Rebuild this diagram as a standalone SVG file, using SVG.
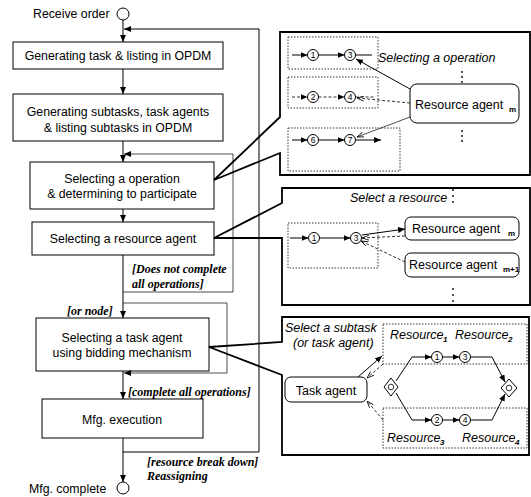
<svg xmlns="http://www.w3.org/2000/svg" width="531" height="497" viewBox="0 0 531 497">
<style>
.t{font-family:"Liberation Sans",Arial,sans-serif;font-size:12.3px;fill:#000}
.c{text-anchor:middle}
.it{font-style:italic;font-size:12.5px}
.lbl{font-family:"Liberation Serif","Times New Roman",serif;font-weight:bold;font-style:italic;font-size:12px;fill:#000}
.num{font-family:"Liberation Sans",Arial,sans-serif;font-size:8.5px;text-anchor:middle;fill:#000}
.sub{font-family:"Liberation Sans",Arial,sans-serif;font-size:8px;font-weight:bold;fill:#000}
.box{fill:#fff;stroke:#000;stroke-width:1}
.panel{fill:#fff;stroke:#000;stroke-width:1.8;stroke-linejoin:miter}
.dot{fill:none;stroke:#000;stroke-width:0.8;stroke-dasharray:1.5 1.5}
.ln{fill:none;stroke:#000;stroke-width:1}
.thin{fill:none;stroke:#000;stroke-width:0.7}
.dash{fill:none;stroke:#000;stroke-width:0.8;stroke-dasharray:3 2}
.op{fill:#fff;stroke:#000;stroke-width:1}
.ag{fill:#fff;stroke:#000;stroke-width:1}
</style>
<defs>
<marker id="af" viewBox="0 0 7 6" refX="7" refY="3" markerWidth="7" markerHeight="6" markerUnits="userSpaceOnUse" orient="auto"><path d="M0,0 L7,3 L0,6 z" fill="#000"/></marker>
<marker id="ao" viewBox="0 0 7 6" refX="7" refY="3" markerWidth="7" markerHeight="6" markerUnits="userSpaceOnUse" orient="auto"><path d="M0,0.5 L7,3 L0,5.5" fill="none" stroke="#000" stroke-width="0.8"/></marker>
</defs>
<rect width="531" height="497" fill="#fff"/>

<g id="start">
<text class="t" x="33" y="18">Receive order</text>
<circle cx="123" cy="14" r="6" fill="#fff" stroke="#000" stroke-width="1"/>
</g>
<g id="n1">
<rect class="box" x="13" y="42" width="210" height="27"/>
<text class="t c" x="118" y="60">Generating task &amp; listing in OPDM</text>
</g>
<g id="n2">
<rect class="box" x="13" y="94" width="210" height="47"/>
<text class="t c" x="118" y="116">Generating subtasks, task agents</text>
<text class="t c" x="118" y="132">&amp; listing subtasks in OPDM</text>
</g>
<g id="n3">
<rect class="box" x="30" y="162" width="184" height="47"/>
<text class="t c" x="122" y="183">Selecting a operation</text>
<text class="t c" x="122" y="198">&amp; determining to participate</text>
</g>
<g id="n4">
<rect class="box" x="32" y="222" width="182" height="33"/>
<text class="t c" x="123" y="243">Selecting a resource agent</text>
</g>
<g id="n5">
<rect class="box" x="36" y="318" width="173" height="53"/>
<text class="t c" x="122" y="342">Selecting a task agent</text>
<text class="t c" x="122" y="357">using bidding mechanism</text>
</g>
<g id="n6">
<rect class="box" x="42" y="399" width="161" height="39"/>
<text class="t c" x="122" y="424">Mfg. execution</text>
</g>
<g id="end">
<text class="t" x="29" y="493">Mfg. complete</text>
<circle cx="123" cy="488" r="6" fill="#fff" stroke="#000" stroke-width="1"/>
</g>
<g id="labels">
<text class="lbl" x="132" y="273">[Does not complete</text>
<text class="lbl" x="132" y="288">all operations]</text>
<text class="lbl" x="67" y="315">[or node]</text>
<text class="lbl" x="128" y="396">[complete all operations]</text>
<text class="lbl" x="147" y="466">[resource break down]</text>
<text class="lbl" x="147" y="480">Reassigning</text>
</g>

<g id="panel1">
<path class="panel" d="M280,32 H530 V175 H280 V153 L214,180 L280,117 Z"/>
<rect class="dot" x="288" y="37" width="90" height="32"/>
<rect class="dot" x="288" y="77" width="90" height="31"/>
<rect class="dot" x="288" y="128" width="112" height="43"/>
<path class="ln" d="M292,55 H307.5" marker-end="url(#af)"/>
<circle class="op" cx="313" cy="55" r="5.5"/><text class="num" x="313" y="58">1</text>
<path class="ln" d="M318.5,55 H344.5" marker-end="url(#af)"/>
<circle class="op" cx="350" cy="55" r="5.5"/><text class="num" x="350" y="58">3</text>
<path class="ln" d="M355.5,55 H372"/>
<path class="dash" d="M292,97 H307.5" marker-end="url(#af)"/>
<circle class="op" cx="313" cy="97" r="5.5"/><text class="num" x="313" y="100">2</text>
<path class="dash" d="M318.5,97 H344.5" marker-end="url(#af)"/>
<circle class="op" cx="350" cy="97" r="5.5"/><text class="num" x="350" y="100">4</text>
<path class="dash" d="M355.5,97 H375"/>
<path class="ln" d="M292,140 H307.5" marker-end="url(#af)"/>
<circle class="op" cx="313" cy="140" r="5.5"/><text class="num" x="313" y="143">6</text>
<path class="ln" d="M318.5,140 H344.5" marker-end="url(#af)"/>
<circle class="op" cx="350" cy="140" r="5.5"/><text class="num" x="350" y="143">7</text>
<path class="ln" d="M355.5,140 H381" marker-end="url(#af)"/>
<text class="t it" x="378" y="62">Selecting a operation</text>
<g fill="#000"><circle cx="462" cy="72" r="0.9"/><circle cx="462" cy="77" r="0.9"/><circle cx="462" cy="82" r="0.9"/>
<circle cx="462" cy="131" r="0.9"/><circle cx="462" cy="136" r="0.9"/><circle cx="462" cy="141" r="0.9"/></g>
<rect class="ag" x="410" y="84" width="109" height="39" rx="7"/>
<text class="t" x="415" y="109" style="font-size:12.5px">Resource agent</text>
<text class="sub" x="509" y="112">m</text>
<path class="ln" d="M410,89 L356,59" marker-end="url(#af)"/>
<path class="dash" d="M410,103 L357,98" marker-end="url(#ao)"/>
<path class="thin" d="M410,117 L357,137" marker-end="url(#ao)"/>
</g>

<g id="panel2">
<path class="panel" d="M282,188 H530 V305 H282 V238 L214,238 L282,203 Z"/>
<text class="t it" x="350" y="202">Select a resource</text>
<g fill="#000"><circle cx="453" cy="190" r="0.9"/><circle cx="453" cy="196" r="0.9"/><circle cx="453" cy="202" r="0.9"/>
<circle cx="453" cy="289" r="0.9"/><circle cx="453" cy="295" r="0.9"/><circle cx="453" cy="301" r="0.9"/></g>
<rect class="dot" x="288" y="223" width="90" height="45"/>
<path class="ln" d="M290,238 H308.5" marker-end="url(#af)"/>
<circle class="op" cx="314" cy="238" r="5.5"/><text class="num" x="314" y="241">1</text>
<path class="ln" d="M319.5,238 H350.5" marker-end="url(#af)"/>
<circle class="op" cx="356" cy="238" r="5.5"/><text class="num" x="356" y="241">3</text>
<rect class="ag" x="405" y="217" width="114" height="23" rx="6"/>
<text class="t" x="412" y="233" style="font-size:12.5px">Resource agent</text>
<text class="sub" x="508" y="236">m</text>
<rect class="ag" x="405" y="253" width="114" height="24" rx="6"/>
<text class="t" x="409" y="269" style="font-size:12.5px">Resource agent</text>
<text class="sub" x="503" y="272">m+1</text>
<path class="ln" d="M362,235 L405,229" marker-end="url(#af)"/>
<path class="dash" d="M405,236 L362,238" marker-end="url(#ao)"/>
<path class="dash" d="M405,262 L361,241" marker-end="url(#ao)"/>
</g>

<g id="panel3">
<path class="panel" d="M282,317 H529 V455 H282 V375 L209,347 L282,342 Z"/>
<text class="t it" x="285" y="332">Select a subtask</text>
<text class="t it" x="293" y="347">(or task agent)</text>
<rect class="ag" x="285" y="377" width="82" height="25" rx="6"/>
<text class="t c" x="326" y="395" style="font-size:12.5px">Task agent</text>
<rect class="dot" x="383" y="324" width="144" height="40"/>
<rect class="dot" x="383" y="408" width="144" height="40"/>
<text class="t it" x="390" y="339">Resource</text><text class="sub" x="443" y="342" style="font-style:italic">1</text>
<text class="t it" x="455" y="339">Resource</text><text class="sub" x="508" y="342" style="font-style:italic">2</text>
<text class="t it" x="387" y="442">Resource</text><text class="sub" x="440" y="445" style="font-style:italic">3</text>
<text class="t it" x="462" y="442">Resource</text><text class="sub" x="515" y="445" style="font-style:italic">4</text>
<path d="M391,378 L398,387 L391,396 L384,387 Z" fill="#fff" stroke="#000" stroke-width="1"/>
<circle cx="391" cy="387" r="2.8" fill="none" stroke="#000" stroke-width="0.8"/>
<path d="M509,379 L517,388 L509,397 L501,388 Z" fill="#fff" stroke="#000" stroke-width="1"/>
<circle cx="509" cy="388" r="2.8" fill="none" stroke="#000" stroke-width="0.8"/>
<path class="ln" d="M396,381 L412,357 H431.5" marker-end="url(#af)"/>
<circle class="op" cx="437" cy="357" r="5.5"/><text class="num" x="437" y="360">1</text>
<path class="ln" d="M442.5,357 H459.5" marker-end="url(#af)"/>
<circle class="op" cx="465" cy="357" r="5.5"/><text class="num" x="465" y="360">3</text>
<path class="ln" d="M470.5,357 H492 L505,382" marker-end="url(#af)"/>
<path class="ln" d="M396,393 L412,420 H431.5" marker-end="url(#af)"/>
<circle class="op" cx="437" cy="420" r="5.5"/><text class="num" x="437" y="423">2</text>
<path class="ln" d="M442.5,420 H459.5" marker-end="url(#af)"/>
<circle class="op" cx="465" cy="420" r="5.5"/><text class="num" x="465" y="423">4</text>
<path class="ln" d="M470.5,420 H492 L505,394" marker-end="url(#af)"/>
<path class="ln" d="M358,377 L382,356" marker-end="url(#af)"/>
<path class="dash" d="M383,364 L367,378" marker-end="url(#ao)"/>
<path class="dash" d="M383,420 L367,401" marker-end="url(#ao)"/>
</g>

<g id="connectors">
<path class="ln" d="M123,20 V42" marker-end="url(#af)"/>
<path class="ln" d="M123,69 V94" marker-end="url(#af)"/>
<path class="ln" d="M123,141 V162" marker-end="url(#af)"/>
<path class="ln" d="M123,209 V222" marker-end="url(#af)"/>
<path class="ln" d="M123,255 V318" marker-end="url(#af)"/>
<path class="ln" d="M123,371 V399" marker-end="url(#af)"/>
<path class="ln" d="M123,438 V482" marker-end="url(#af)"/>
<path class="ln" d="M123,452 H259 V29 H124" marker-end="url(#af)"/>
<path class="thin" d="M123,292 H233 V154 H124" marker-end="url(#af)"/>
<path class="thin" d="M123,303 H227 V373 H124" marker-end="url(#af)"/>
</g>
</svg>
